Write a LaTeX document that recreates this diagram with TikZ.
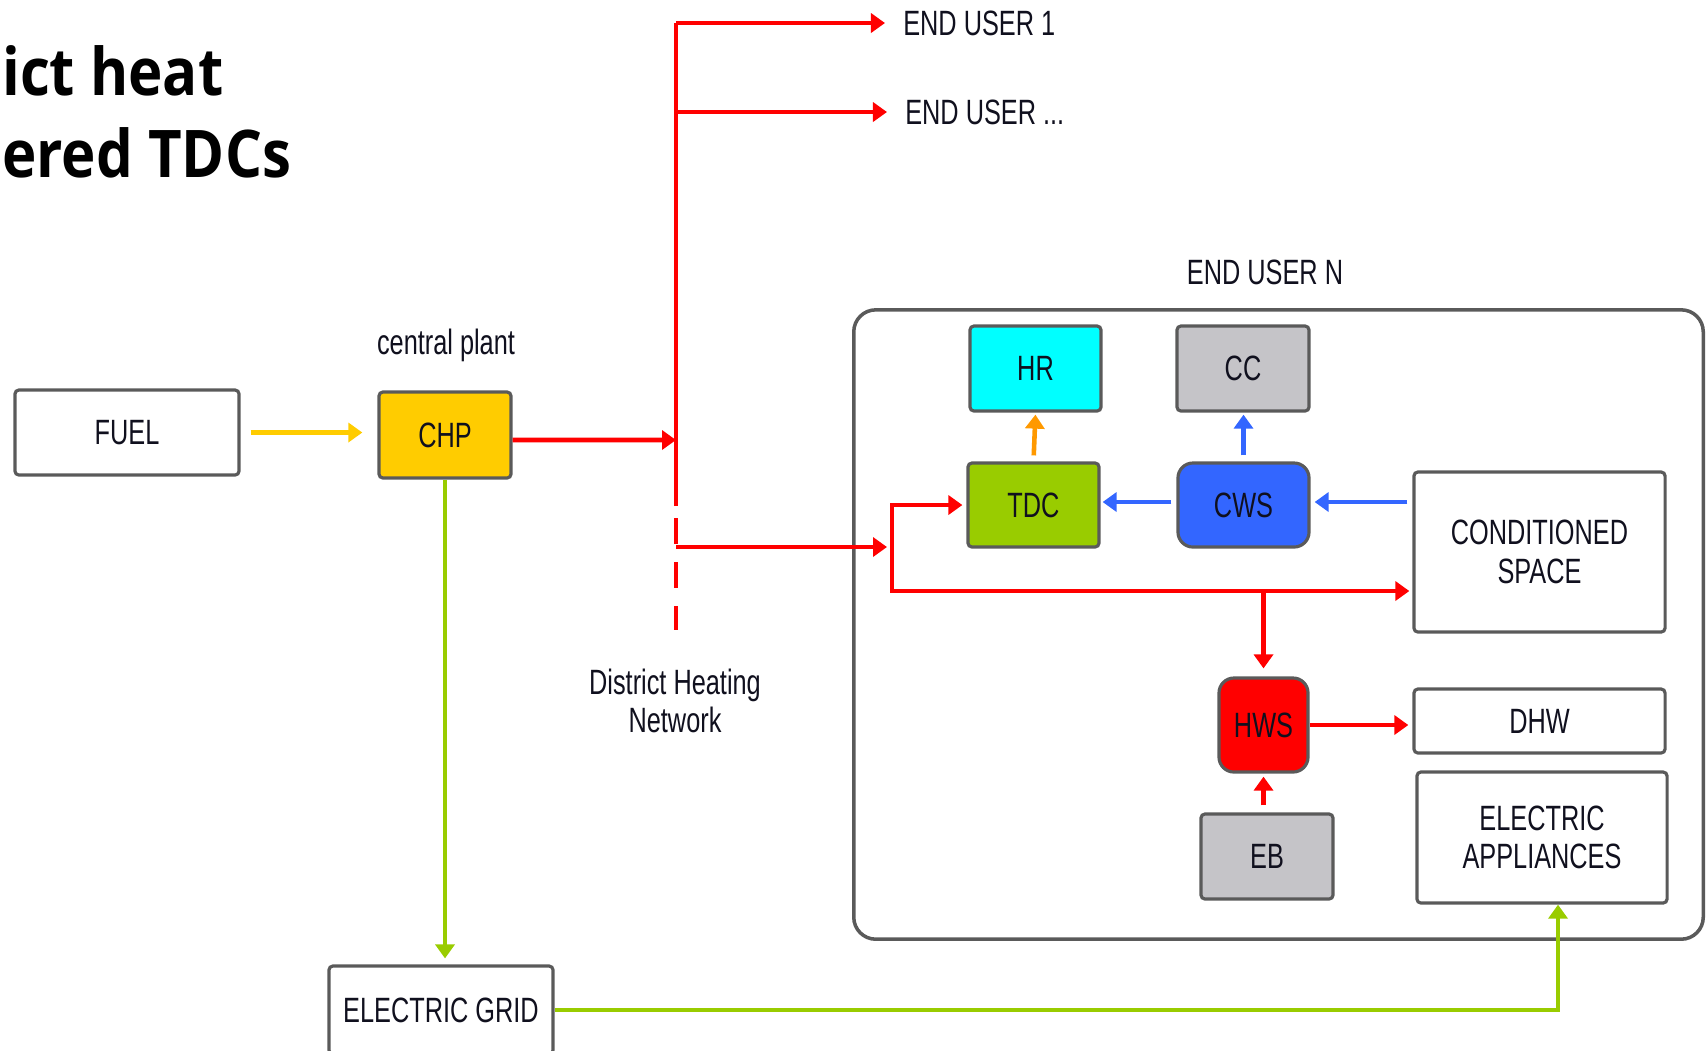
\documentclass[tikz,border=0pt]{standalone}
\usepackage{fontspec}
\setmainfont{Liberation Sans}[FakeStretch=0.72]
\newfontfamily\titlefont{Open Sans}[FakeStretch=0.885]
\usepackage{tikz}
\usetikzlibrary{arrows.meta, calc}

\definecolor{heatred}{HTML}{FF0000}
\definecolor{fuelyel}{HTML}{FFCC00}
\definecolor{elecgreen}{HTML}{99CC00}
\definecolor{coldblue}{HTML}{3366FF}
\definecolor{wasteor}{HTML}{FF9900}
\definecolor{hrcyan}{HTML}{00FFFF}
\definecolor{boxgray}{HTML}{5A5A5A}
\definecolor{fillgray}{HTML}{C5C4C8}
\definecolor{txt}{HTML}{10101E}

\begin{document}
\begin{tikzpicture}[x=0.01cm, y=-0.01cm,
  >={Triangle[length=1.4mm, width=1.9mm]}, line width=1.3pt,
  every node/.style={font=\fontsize{10}{11}\selectfont, text=txt},
  box/.style={draw=boxgray, line width=0.9pt, rounded corners=0.4mm, align=center, inner sep=0pt},
  rbox/.style={box, rounded corners=1.5mm},
  heat/.style={draw=heatred, ->},
  cold/.style={draw=coldblue, ->},
  waste/.style={draw=wasteor, ->},
  fuelin/.style={draw=fuelyel, ->},
  elec/.style={draw=elecgreen, ->}]

  \useasboundingbox (0,0) rectangle (1706,1050);
  \clip (0,0) rectangle (1706,1050);

  % titulo
  \node[font=\titlefont\bfseries\fontsize{18.7}{20}\selectfont, text=black,
        anchor=base west, inner sep=0pt] (tit1) at (0,95) {ict heat};
  \node[font=\titlefont\bfseries\fontsize{18.7}{20}\selectfont, text=black,
        anchor=base west, inner sep=0pt] (tit2) at (0,177) {ered TDCs};

  % planta central
  \node[box, minimum width=2.24cm, minimum height=0.85cm] (fuel) at (127,432.5) {FUEL};
  \node[box, fill=fuelyel, minimum width=1.32cm, minimum height=0.86cm] (chp) at (445,435) {CHP};
  \node (plant) at (446,345) {central plant};
  \node[box, minimum width=2.24cm, minimum height=0.88cm] (grid) at (441,1010) {ELECTRIC GRID};

  \draw[fuelin, shorten <=1mm, shorten >=1.5mm] (fuel.east) -- (fuel.east -| chp.west);
  \draw[elec, shorten >=0.6mm] (chp.south) -- (chp.south |- grid.north);

  % red de calor
  \coordinate (ntop) at (676,23);
  \coordinate (nchp) at (676,440);
  \coordinate (nend) at (676,506);
  \coordinate (nbr)  at (676,547);
  \coordinate (nlow) at (676,630);
  \node[anchor=west, inner sep=0pt] (eu1) at (901,23) {END USER 1};
  \node[anchor=west, inner sep=0pt] (eun) at (903,112) {END USER ...};
  \node[align=center] (dhn) at (675,701) {District Heating\\Network};

  \draw[heat, -] (nend) -- (ntop);
  \draw[heat, -, dash pattern=on 0.26cm off 0.18cm, dash phase=0.32cm] (nend) -- (nlow);
  \draw[heat, shorten >=1.6mm] (ntop) -- (eu1.west);
  \draw[heat, shorten >=1.6mm] (ntop |- eun.west) -- (eun.west);
  \draw[heat] ([yshift=-0.05cm]chp.east) -- (nchp);

  % usuario final N
  \node[draw=boxgray, line width=1pt, rounded corners=2.2mm, minimum width=8.49cm,
        minimum height=6.29cm, inner sep=0pt] (usern) at (1278.5,624.5) {};
  \node (usrlbl) at (1265,272) {END USER N};

  \node[box, fill=hrcyan, minimum width=1.31cm, minimum height=0.85cm] (hr) at (1035.5,368.5) {HR};
  \node[box, fill=fillgray, minimum width=1.32cm, minimum height=0.85cm] (cc) at (1243,368.5) {CC};
  \node[box, fill=elecgreen, minimum width=1.31cm, minimum height=0.84cm] (tdc) at (1033.5,505) {TDC};
  \node[rbox, fill=coldblue, minimum width=1.31cm, minimum height=0.84cm] (cws) at (1243.5,505) {CWS};
  \node[box, minimum width=2.51cm, minimum height=1.60cm] (cond) at (1539.5,552) {CONDITIONED\\SPACE};
  \node[rbox, fill=heatred, minimum width=0.89cm, minimum height=0.94cm] (hws) at (1263.5,725) {HWS};
  \node[box, minimum width=2.51cm, minimum height=0.64cm] (dhw) at (1539.5,721) {DHW};
  \node[box, minimum width=2.50cm, minimum height=1.31cm] (app) at (1542,837.5) {ELECTRIC\\APPLIANCES};
  \node[box, fill=fillgray, minimum width=1.32cm, minimum height=0.85cm] (eb) at (1267,856.5) {EB};

  \coordinate (split) at (892,547);
  \coordinate (hj) at (1263.5,591);
  \draw[heat, shorten >=0.5mm] (nbr) -- (split);
  \draw[heat, shorten >=0.4mm] (split) |- (tdc.west);
  \draw[heat, shorten >=0.3mm] (split) |- (cond.west |- hj);
  \draw[heat, shorten >=0.8mm] (hj) -- (hws.north);
  \draw[heat, shorten >=0.4mm] (hws.east) -- (dhw.west |- hws.east);
  \draw[heat, shorten <=0.7mm, shorten >=0.3mm] (eb.north -| hws.south) -- (hws.south);

  \draw[waste, shorten <=0.6mm, shorten >=0.2mm] (tdc.north) -- (hr.south);
  \draw[cold, shorten <=0.6mm, shorten >=0.2mm] (cws.north) -- (cws.north |- cc.south);
  \draw[cold, shorten <=0.5mm, shorten >=0.2mm] ([yshift=0.03cm]cws.west) -- ([yshift=0.03cm]tdc.east);
  \draw[cold, shorten <=0.5mm, shorten >=0.4mm] ([yshift=0.03cm]cond.west |- cws.east) -- ([yshift=0.03cm]cws.east);

  % red electrica
  \draw[elec] (grid.east) -| ([xshift=0.16cm]app.south);
\end{tikzpicture}
\end{document}
